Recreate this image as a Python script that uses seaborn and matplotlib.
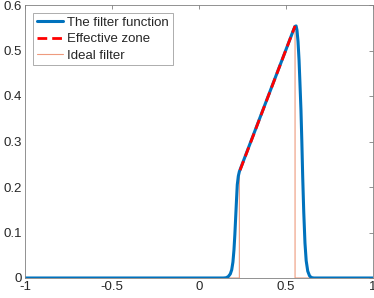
import matplotlib
matplotlib.use("Agg")
import matplotlib.pyplot as plt
import seaborn as sns
import pandas as pd

# The filter function
filter_x = [-1.0, 0.14, 0.155, 0.168, 0.18, 0.188, 0.195, 0.201, 0.206, 0.211, 0.216, 0.220, 0.226, 0.232,
            0.30, 0.40, 0.50, 0.545, 0.552, 0.558, 0.563, 0.569, 0.575, 0.580, 0.586, 0.591, 0.596,
            0.602, 0.609, 0.616, 0.625, 0.635, 0.645, 0.66, 1.0]
filter_y = [0.0, 0.0, 0.0005, 0.003, 0.009, 0.018, 0.035, 0.062, 0.095, 0.135, 0.175, 0.205, 0.224, 0.234,
            0.302, 0.402, 0.502, 0.547, 0.553, 0.554, 0.545, 0.52, 0.479, 0.43, 0.369, 0.30, 0.222,
            0.145, 0.077, 0.038, 0.015, 0.005, 0.001, 0.0, 0.0]

# Effective zone
zone_x = [0.236, 0.552]
zone_y = [0.237, 0.554]

# Ideal filter
ideal_x = [-1.0, 0.232, 0.232, 0.552, 0.552, 1.0]
ideal_y = [0.0, 0.0, 0.232, 0.552, 0.0, 0.0]

labels = ["The filter function", "Effective zone", "Ideal filter"]
xticks = [-1, -0.5, 0, 0.5, 1]
xticklabels = ["-1", "-0.5", "0", "0.5", "1"]
yticks = [0, 0.1, 0.2, 0.3, 0.4, 0.5, 0.6]
yticklabels = ["0", "0.1", "0.2", "0.3", "0.4", "0.5", "0.6"]

sns.set_theme(style="white")
plt.rcParams['font.family'] = ['Liberation Sans', 'DejaVu Sans']

fig = plt.figure(figsize=(3.74, 2.98), dpi=100)
ax = fig.add_axes([25/374, 20/298, 348/374, 273/298])

df_f = pd.DataFrame({"x": filter_x, "y": filter_y})
df_z = pd.DataFrame({"x": zone_x, "y": zone_y})
df_i = pd.DataFrame({"x": ideal_x, "y": ideal_y})

sns.lineplot(data=df_f, x="x", y="y", ax=ax, color="#0072BD", linewidth=2.2,
             sort=False, estimator=None, label=labels[0], zorder=2)
sns.lineplot(data=df_z, x="x", y="y", ax=ax, color="#FF0000", linewidth=2.0,
             sort=False, estimator=None, label=labels[1], zorder=3)
ax.lines[-1].set_dashes([3.5, 1.8])
sns.lineplot(data=df_i, x="x", y="y", ax=ax, color="#EE9B7E", linewidth=0.8,
             sort=False, estimator=None, label=labels[2], zorder=1)

ax.set_xlim(-1, 1)
ax.set_ylim(0, 0.6)
ax.set_xticks(xticks)
ax.set_xticklabels(xticklabels)
ax.set_yticks(yticks)
ax.set_yticklabels(yticklabels)
ax.set_xlabel("")
ax.set_ylabel("")

for s in ax.spines.values():
    s.set_visible(True)
    s.set_color("#808080")
    s.set_linewidth(0.6)
ax.tick_params(direction="in", length=3, width=0.6, color="#808080",
               top=True, right=True, labelsize=9.5, labelcolor="#262626", pad=2)

leg = ax.legend(loc="upper left", bbox_to_anchor=(0.023, 0.971), fontsize=9.5,
                frameon=True, fancybox=False, framealpha=1, edgecolor="#a0a0a0",
                borderpad=0.3, labelspacing=0.3, handlelength=2.0, handletextpad=0.3,
                borderaxespad=0.0)
leg.get_frame().set_linewidth(0.6)

fig.savefig("out.png", dpi=100)
